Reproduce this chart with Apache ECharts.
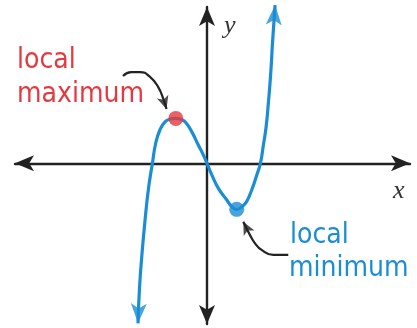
<!DOCTYPE html>
<html><head><meta charset="utf-8">
<script src="https://cdn.jsdelivr.net/npm/echarts@6/dist/echarts.min.js"></script>
<style>html,body{margin:0;padding:0;background:#fff}#c{width:417px;height:328px}</style>
</head><body><div id="c"></div>
<script>
// cubic curve (x, y in axis units)
const curveX = [-2.30, -2.25, -2.17, -2.07, -1.95, -1.82, -1.71, -1.57, -1.40, -1.23, -1.04, -0.87, -0.73, -0.51, -0.29, -0.12, 0, 0.16, 0.38, 0.66, 0.82, 0.99, 1.17, 1.32, 1.49, 1.66, 1.78, 1.88, 1.97, 2.04, 2.12, 2.19, 2.27];
const curveY = [-7.02, -5.48, -4.02, -2.56, -1.10, 0, 0.88, 1.46, 1.82, 1.94, 1.97, 1.93, 1.82, 1.39, 0.80, 0.36, 0, -0.51, -1.10, -1.61, -1.89, -2.02, -1.90, -1.68, -1.17, -0.51, 0, 0.80, 1.59, 2.56, 3.87, 5.41, 6.94];
const localMax = [-1.04, 1.97];
const localMin = [0.99, -2.02];
// pointer arrows (from label toward the point)
const pointerMaxX = [-2.80, -2.53, -2.23, -1.90, -1.63, -1.45, -1.35];
const pointerMaxY = [3.83, 4.00, 4.00, 3.79, 3.35, 2.80, 2.38];
const pointerMinX = [2.71, 2.21, 1.82, 1.60, 1.43, 1.21];
const pointerMinY = [-4.02, -4.02, -3.80, -3.51, -3.14, -2.56];
const maxLabel = ['local', 'maximum'];
const minLabel = ['local', 'minimum'];
const axisNames = ['x', 'y'];
const xRange = [-6.4, 6.767];
const yRange = [-7.048, 6.855];

const BLUE = '#1b8dd6', RED = '#e5393f', INK = '#222222';
const zip = (a, b) => a.map((v, i) => [v, b[i]]);
const curve = zip(curveX, curveY);
const pMax = zip(pointerMaxX, pointerMaxY);
const pMin = zip(pointerMinX, pointerMinY);

const chart = echarts.init(document.getElementById('c'), null, {renderer: 'canvas'});
const axisCommon = {
  type: 'value',
  axisLine: {show: true, onZero: true, symbol: ['arrow', 'arrow'], symbolSize: [12, 19], symbolOffset: [0, 0],
    lineStyle: {color: INK, width: 2.4}},
  axisTick: {show: false}, axisLabel: {show: false}, splitLine: {show: false}
};
const labelFont = {fontFamily: 'DejaVu Sans Condensed', fontSize: 28};
function headSeries(id, pts, color, size) {
  return {id: id, type: 'scatter', symbol: 'arrow', symbolSize: size, z: 5, clip: false,
    itemStyle: {color: color}, data: pts, silent: true};
}
const option = {
  animation: false,
  grid: {left: 15, right: 7, top: 7, bottom: 4, containLabel: false},
  xAxis: Object.assign({min: xRange[0], max: xRange[1]}, axisCommon),
  yAxis: Object.assign({min: yRange[0], max: yRange[1]}, axisCommon),
  series: [
    {type: 'line', data: curve, smooth: 0.5, showSymbol: false, z: 3, clip: false,
      lineStyle: {color: BLUE, width: 3.2}},
    headSeries('curveHeads', [curve[0], curve[curve.length - 1]], BLUE, [12, 20]),
    {type: 'scatter', symbolSize: 15, z: 6, itemStyle: {color: RED}, data: [localMax]},
    {type: 'scatter', symbolSize: 15, z: 6, itemStyle: {color: BLUE}, data: [localMin]},
    {type: 'line', data: pMax, smooth: 0.5, showSymbol: false, z: 5, lineStyle: {color: INK, width: 2.2}},
    {type: 'line', data: pMin, smooth: 0.5, showSymbol: false, z: 5, lineStyle: {color: INK, width: 2.2}},
    headSeries('maxHead', [pMax[pMax.length - 1]], INK, [9, 13]),
    headSeries('minHead', [pMin[pMin.length - 1]], INK, [9, 13])
  ],
  graphic: [
    {type: 'text', left: 17, top: 47, style: Object.assign({text: maxLabel[0], fill: RED}, labelFont)},
    {type: 'text', left: 17, top: 81, style: Object.assign({text: maxLabel[1], fill: RED}, labelFont)},
    {type: 'text', left: 290, top: 222, style: Object.assign({text: minLabel[0], fill: BLUE}, labelFont)},
    {type: 'text', left: 289, top: 255, style: Object.assign({text: minLabel[1], fill: BLUE}, labelFont)},
    {type: 'text', left: 393, top: 178, style: {text: axisNames[0], fill: '#333', font: 'italic 26px "Liberation Serif"'}},
    {type: 'text', left: 224, top: 13, style: {text: axisNames[1], fill: '#333', font: 'italic 26px "Liberation Serif"'}}
  ]
};
chart.setOption(option);

// orient arrow heads along the direction of travel (tip sits on the end point)
function angleOf(a, b) {
  const p = chart.convertToPixel({gridIndex: 0}, a), q = chart.convertToPixel({gridIndex: 0}, b);
  const dx = q[0] - p[0], dy = q[1] - p[1];
  return Math.atan2(-dx, -dy) * 180 / Math.PI;
}
const n = curve.length;
chart.setOption({series: [
  {id: 'curveHeads', data: [
    {value: curve[0], symbolRotate: angleOf(curve[1], curve[0])},
    {value: curve[n - 1], symbolRotate: angleOf(curve[n - 2], curve[n - 1])}]},
  {id: 'maxHead', data: [{value: pMax[pMax.length - 1], symbolRotate: angleOf(pMax[pMax.length - 2], pMax[pMax.length - 1])}]},
  {id: 'minHead', data: [{value: pMin[pMin.length - 1], symbolRotate: angleOf(pMin[pMin.length - 2], pMin[pMin.length - 1])}]}
]});
</script></body></html>
